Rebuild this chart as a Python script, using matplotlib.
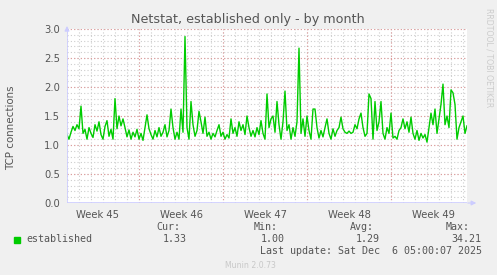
import matplotlib
matplotlib.use("Agg")
import matplotlib.pyplot as plt
import numpy as np

# ---- data ----
# days relative to the Monday that opens Week 46; one sample every 4 hours
start_day = -6.0
step_day = 1.0 / 6.0
established = [
    1.18, 1.10, 1.22, 1.32, 1.25, 1.35, 1.28, 1.67, 1.20, 1.27,
    1.10, 1.30, 1.20, 1.13, 1.35, 1.24, 1.40, 1.18, 1.10, 1.32,
    1.42, 1.15, 1.27, 1.10, 1.80, 1.28, 1.50, 1.33, 1.45, 1.30,
    1.14, 1.26, 1.10, 1.22, 1.14, 1.27, 1.10, 1.20, 1.08, 1.30,
    1.52, 1.28, 1.18, 1.10, 1.25, 1.14, 1.30, 1.15, 1.22, 1.35,
    1.14, 1.25, 1.62, 1.30, 1.10, 1.22, 1.10, 1.62, 1.22, 2.87,
    1.30, 1.10, 1.75, 1.35, 1.15, 1.25, 1.58, 1.40, 1.20, 1.48,
    1.15, 1.22, 1.10, 1.20, 1.14, 1.25, 1.35, 1.15, 1.22, 1.10,
    1.18, 1.12, 1.45, 1.20, 1.30, 1.15, 1.40, 1.25, 1.35, 1.18,
    1.50, 1.30, 1.15, 1.25, 1.14, 1.30, 1.18, 1.42, 1.20, 1.10,
    1.88, 1.30, 1.45, 1.50, 1.22, 1.75, 1.35, 1.10, 1.40, 1.93,
    1.25, 1.35, 1.10, 1.30, 1.15, 1.40, 2.67, 1.20, 1.45, 1.15,
    1.50, 1.25, 1.10, 1.62, 1.62, 1.30, 1.12, 1.25, 1.14, 1.30,
    1.45, 1.20, 1.10, 1.28, 1.15, 1.25, 1.30, 1.48, 1.28, 1.22,
    1.20, 1.24, 1.20, 1.22, 1.35, 1.28, 1.45, 1.55, 1.30, 1.15,
    1.20, 1.88, 1.80, 1.10, 1.75, 1.25, 1.40, 1.75, 1.20, 1.10,
    1.30, 1.20, 1.55, 1.12, 1.15, 1.10, 1.25, 1.30, 1.45, 1.28,
    1.40, 1.22, 1.48, 1.20, 1.10, 1.25, 1.08, 1.20, 1.12, 1.18,
    1.05, 1.30, 1.55, 1.35, 1.62, 1.20, 1.45, 1.70, 2.05, 1.35,
    1.50, 1.30, 1.95, 1.90, 1.70, 1.10, 1.30, 1.40, 1.50, 1.20,
    1.33,
]
week_labels = ["Week 45", "Week 46", "Week 47", "Week 48", "Week 49"]
week_starts = [-7, 0, 7, 14, 21]
y_ticks = [0.0, 0.5, 1.0, 1.5, 2.0, 2.5, 3.0]
stats_names = ["Cur:", "Min:", "Avg:", "Max:"]
stats_values = ["1.33", "1.00", "1.29", "34.21"]
last_update = "Last update: Sat Dec  6 05:00:07 2025"

W, H = 497, 275
BG = "#F0F0F0"
TXT = "#555555"
GREEN = "#00CC00"
AXIS = "#CCCCFF"


def px(x, y):
    return x / W, 1 - y / H


days = start_day + step_day * np.arange(len(established))

fig = plt.figure(figsize=(W / 100, H / 100), dpi=100, facecolor=BG)
l, b = px(67, 203)
r, t = px(467, 29)
ax = fig.add_axes([l, b, r - l, t - b], facecolor="white")

ax.set_xlim(start_day, start_day + 400 / 12)
ax.set_ylim(0, 3.0)

# grid: grey dotted every day / 0.1, red dotted every week / 0.5
for d in np.arange(-6, 28):
    ax.axvline(d, color="#CDCDCD", lw=0.8, ls=(0, (1, 2)), zorder=0)
for v in np.arange(0.1, 3.01, 0.1):
    ax.axhline(v, color="#CDCDCD", lw=0.8, ls=(0, (1, 2)), zorder=0)
for d in week_starts[1:]:
    ax.axvline(d, color="#E09A9A", lw=0.8, ls=(0, (1, 2)), zorder=1)
for v in y_ticks:
    ax.axhline(v, color="#E09A9A", lw=0.8, ls=(0, (1, 2)), zorder=1)

ax.plot(days, established, color=GREEN, lw=1.0, zorder=3)

for s in ax.spines.values():
    s.set_visible(False)
ax.axvline(start_day, color=AXIS, lw=1.2, zorder=4)
ax.axhline(0, color=AXIS, lw=1.2, zorder=4)
ax.annotate("", xy=(start_day, 3.1), xytext=(start_day, 2.95),
            arrowprops=dict(arrowstyle="-|>", color=AXIS, lw=0.8,
                            mutation_scale=7), annotation_clip=False)
ax.annotate("", xy=(start_day + 412 / 12, 0), xytext=(start_day + 398 / 12, 0),
            arrowprops=dict(arrowstyle="-|>", color=AXIS, lw=0.8,
                            mutation_scale=7), annotation_clip=False)

ax.set_yticks(y_ticks)
ax.set_yticklabels([f"{v:.1f}" for v in y_ticks])
ax.set_xticks([d + 3.5 for d in week_starts])
ax.set_xticklabels(week_labels)
ax.tick_params(length=0, labelsize=7.2, colors=TXT, pad=5)

fig.text(*px(248, 19), "Netstat, established only - by month", ha="center",
         va="center", fontsize=9.2, color=TXT)
fig.text(*px(11, 128), "TCP connections", rotation=90, ha="center",
         va="center", fontsize=7.4, color=TXT)
fig.text(*px(489, 58), "RRDTOOL / TOBI OETIKER", rotation=270, ha="center",
         va="center", fontsize=5.6, color="#CCCCCC")

mono = dict(family="DejaVu Sans Mono", fontsize=7.2, color=TXT, va="center")
fig.patches.append(plt.Rectangle(px(14, 243), 6 / W, 6 / H, color=GREEN,
                                 transform=fig.transFigure, figure=fig))
fig.text(*px(26, 239), "established", ha="left", **mono)
name_right = [180, 278, 374, 470]
value_right = [187, 285, 380, 481]
for name, val, xn, xv in zip(stats_names, stats_values, name_right, value_right):
    fig.text(*px(xn, 227), name, ha="right", **mono)
    fig.text(*px(xv, 239), val, ha="right", **mono)
fig.text(*px(482, 251), last_update, ha="right", **mono)
fig.text(*px(250, 265), "Munin 2.0.73", ha="center", va="center",
         fontsize=5.6, color="#C8C8C8")

fig.savefig("out.png", dpi=100, facecolor=BG)
